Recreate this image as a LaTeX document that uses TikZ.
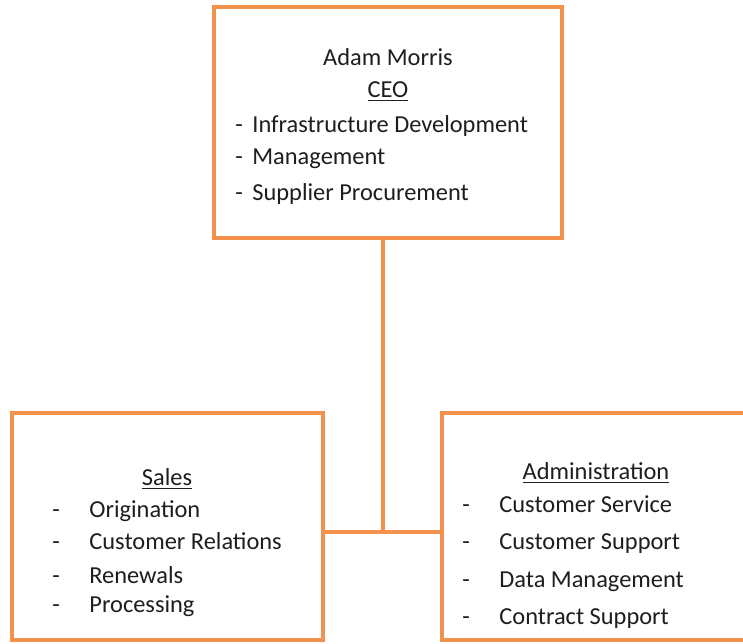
\documentclass[tikz,border=0pt]{standalone}
\usepackage{fontspec}
\setmainfont{Carlito}
\usepackage{tikz}
\usetikzlibrary{positioning, calc}
\definecolor{boxorange}{RGB}{242,146,76}
\definecolor{inktext}{RGB}{30,30,30}
\tikzset{org box/.style={rectangle, draw=boxorange, line width=2.2pt, inner sep=0pt},
	org line/.style={draw=boxorange, line width=2.2pt},
	entry/.style={anchor=base west, inner sep=0pt, text=inktext, font=\fontsize{12.2}{14}\selectfont},
	head/.style={anchor=base, inner sep=0pt, text=inktext, font=\fontsize{12.2}{14}\selectfont},}
\newcommand{\dashitem}[2]{\makebox[#1][l]{-}#2}

\begin{document}
\begin{tikzpicture}[x=0.5pt, y=-0.5pt]
			\clip (0,0) rectangle (743,643);
			\fill[white] (0,0) rectangle (743,643);
			% Boxes
			\node[org box, minimum width=174pt, minimum height=115.5pt] (ceo) at (388,122.5) {};
			\node[org box, minimum width=155.5pt, minimum height=113.5pt] (sales) at (167.5,526.5) {};
			\node[org box, minimum width=159pt, minimum height=113.5pt] (admin) at (601,526.5) {};

			% Lines
			\coordinate (drop) at ([xshift=-2.5pt]ceo.south);
			\coordinate (joint) at (drop |- 0,532);
			\path[org line] (drop) -- (joint);
			\path[org line] (sales.east |- joint) -- (admin.west |- joint);

			% CEO text
			\node[head] (name) at (388,65) {Adam Morris};
			\node[head] (ceotitle) at (388,97) {\underline{CEO}};
			\node[entry] (ceo1) at (235,132) {\dashitem{8.5pt}{Infrastructure Development}};
			\node[entry] (ceo2) at (235,164) {\dashitem{8.5pt}{Management}};
			\node[entry] (ceo3) at (235,200) {\dashitem{8.5pt}{Supplier Procurement}};

			% Sales text
			\node[head] (salestitle) at (167,485) {\underline{Sales}};
			\node[entry] (sales1) at (52,517) {\dashitem{18.5pt}{Origination}};
			\node[entry] (sales2) at (52,549) {\dashitem{18.5pt}{Customer Relations}};
			\node[entry] (sales3) at (52,583) {\dashitem{18.5pt}{Renewals}};
			\node[entry] (sales4) at (52,612) {\dashitem{18.5pt}{Processing}};

			% Administration text
			\node[head] (admintitle) at (596,479) {\underline{Administration}};
			\node[entry] (admin1) at (462,512) {\dashitem{18.5pt}{Customer Service}};
			\node[entry] (admin2) at (462,549) {\dashitem{18.5pt}{Customer Support}};
			\node[entry] (admin3) at (462,587) {\dashitem{18.5pt}{Data Management}};
			\node[entry] (admin4) at (462,624) {\dashitem{18.5pt}{Contract Support}};
		\end{tikzpicture}
\end{document}
